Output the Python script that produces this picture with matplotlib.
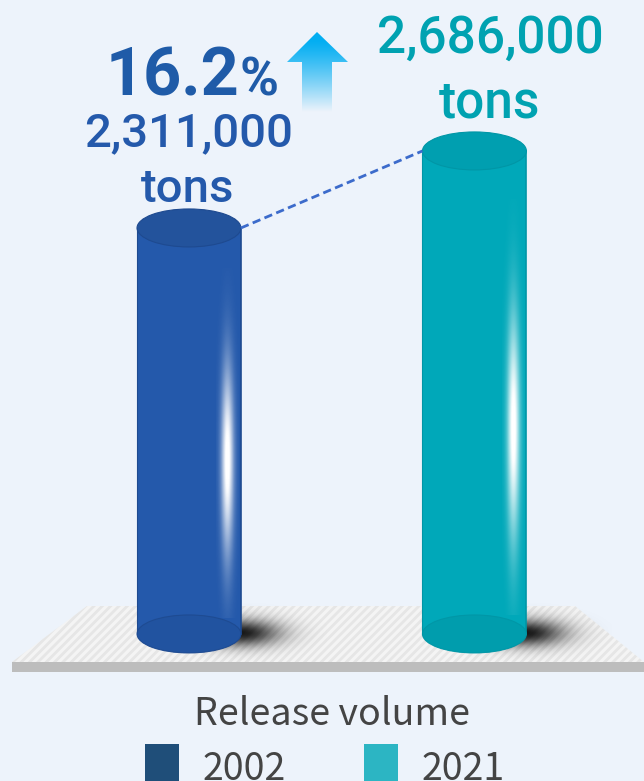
import numpy as np
import matplotlib
matplotlib.use('Agg')
import matplotlib.pyplot as plt
from matplotlib import font_manager as fm
from matplotlib.patches import Rectangle, Ellipse, Polygon
from matplotlib.colors import to_rgb

# data
years = ['2002', '2021']
volumes = [2311000, 2686000]
value_lines = ['2,311,000', '2,686,000']
unit = 'tons'
growth = '16.2'
axis_title = 'Release volume'

body_colors = ['#2459AB', '#00A8B9']
top_colors = ['#23539C', '#009FB0']
edge_colors = ['#1E4A90', '#0096A6']
text_colors = ['#2459AB', '#00A2B1']
legend_colors = ['#1F4E79', '#2CB5C3']
bg = '#EDF3FB'


def has_font(name):
    try:
        fm.findfont(fm.FontProperties(family=name), fallback_to_default=False)
        return True
    except ValueError:
        return False


num_font = 'Roboto' if has_font('Roboto') else 'Liberation Sans'
label_font = ['Noto Sans CJK KR', 'DejaVu Sans']

fig = plt.figure(figsize=(6.44, 7.81), dpi=100, facecolor=bg)

# background axes in pixel units
ax = fig.add_axes([0, 0, 1, 1], zorder=0)
ax.set_xlim(0, 644)
ax.set_ylim(781, 0)
ax.axis('off')

plt.rcParams['hatch.linewidth'] = 2.0
floor = Polygon([(87, 606), (575, 606), (644, 662), (12, 662)], closed=True,
                facecolor='#F4F4F4', edgecolor='#E6E6E6', linewidth=0, hatch='////')
ax.add_patch(floor)
ax.add_patch(Rectangle((12, 662), 632, 10, facecolor='#BDBDBD', edgecolor='none'))

# bars axes in data units
axb = fig.add_axes([0, 0, 1, 1], zorder=1)
axb.patch.set_alpha(0)
axb.axis('off')
XLIM = (-0.662, 1.594)
YLIM = (-382000, 3421000)
BASE = 334000
w = 0.364
eh = 185000  # ellipse height in value units

# shadow image
sx = np.linspace(-1, 1, 120)
sy = np.linspace(-1, 1, 60)
SX, SY = np.meshgrid(sx, sy)
shade = np.exp(-(SX ** 2 / 0.2 + SY ** 2 / 0.2))
shadow_img = np.zeros((60, 120, 4))
shadow_img[..., 3] = shade * 0.9

# highlight streak
hx = np.linspace(-1, 1, 40)
hy = np.linspace(0, 1, 200)
HX, HY = np.meshgrid(hx, hy)
streak = np.exp(-HX ** 2 / 0.3) * np.exp(-((HY - 0.55) ** 2) / 0.07)
streak_img = np.ones((200, 40, 4))
streak_img[..., 3] = np.clip(streak * 1.1, 0, 1)

for i, v in enumerate(volumes):
    x0 = i - w / 2
    axb.imshow(shadow_img, extent=(i + 0.18 - 0.3, i + 0.18 + 0.3, BASE - 140000, BASE + 150000),
               aspect='auto', zorder=1, interpolation='bilinear')
    axb.add_patch(Ellipse((i, BASE), w, eh, facecolor=body_colors[i], edgecolor='none', zorder=2))
    axb.add_patch(Rectangle((x0, BASE), w, v - BASE, facecolor=body_colors[i],
                            edgecolor='none', zorder=3))
    axb.plot([x0, x0], [BASE, v], color=edge_colors[i], lw=0.8, zorder=4)
    axb.plot([x0 + w, x0 + w], [BASE, v], color=edge_colors[i], lw=1.2, zorder=4)
    dark = tuple(c * 0.93 for c in to_rgb(body_colors[i]))
    axb.add_patch(Ellipse((i, BASE), w, eh, facecolor=dark, edgecolor=edge_colors[i],
                          lw=0.8, alpha=0.9, zorder=4))
    hgt = v - BASE
    axb.imshow(streak_img, extent=(i + 0.135 - 0.04, i + 0.135 + 0.04,
                                   BASE + hgt * 0.04, BASE + hgt * 0.9),
               aspect='auto', zorder=5, interpolation='bilinear')
    axb.add_patch(Ellipse((i, v), w, eh, facecolor=top_colors[i], edgecolor=edge_colors[i],
                          lw=0.8, zorder=6))

axb.plot([w / 2, 1 - w / 2], volumes, color='#3C6BCB', lw=2, ls=(0, (3, 1.6)), zorder=7)
axb.set_xlim(*XLIM)
axb.set_ylim(*YLIM)

# arrow with gradient
arrow = Polygon([(317, 32), (348, 62), (332, 62), (332, 112), (302, 112), (302, 62), (287, 62)],
                closed=True, facecolor='none', edgecolor='none')
ax.add_patch(arrow)
top_c = np.array(to_rgb('#03AEF2'))
bot_c = np.array(to_rgb(bg))
t = np.linspace(0, 1, 100)[:, None]
mix = np.clip((t - 0.1) / 0.9, 0, 1) ** 1.2
grad = top_c * (1 - mix) + bot_c * mix
grad_img = np.repeat(grad[:, None, :], 10, axis=1)
im = ax.imshow(grad_img, extent=(287, 348, 112, 32), aspect='auto', zorder=3)
im.set_clip_path(arrow)

# value labels
ax.text(106, 96, growth, fontsize=48, fontweight='bold', family=num_font,
        color='#1F5BA8', ha='left', va='baseline', zorder=5)
ax.text(240, 96, '%', fontsize=38, fontweight='bold', family=num_font,
        color='#1F5BA8', ha='left', va='baseline', zorder=5)

ax.text(188.5, 146, value_lines[0], fontsize=34, family=num_font, fontweight='medium',
        color=text_colors[0], ha='center', va='baseline')
ax.text(188, 202, unit, fontsize=34, family=num_font, fontweight='medium',
        color=text_colors[0], ha='center', va='baseline')
ax.text(490, 53, value_lines[1], fontsize=37, family=num_font, fontweight='medium',
        color=text_colors[1], ha='center', va='baseline')
ax.text(490, 117, unit, fontsize=37, family=num_font, fontweight='medium',
        color=text_colors[1], ha='center', va='baseline')

# title + legend
ax.text(332.5, 725, axis_title, fontsize=27, family=label_font, color='#444444',
        ha='center', va='baseline')
leg_x = [145, 364]
lab_x = [203, 422]
for i, yr in enumerate(years):
    ax.add_patch(Rectangle((leg_x[i], 744), 34, 40, facecolor=legend_colors[i], edgecolor='none'))
    ax.text(lab_x[i], 780, yr, fontsize=27, family=label_font, color='#444444',
            ha='left', va='baseline')

ax.set_xlim(0, 644)
ax.set_ylim(781, 0)

fig.savefig('out.png', dpi=100, facecolor=bg)
